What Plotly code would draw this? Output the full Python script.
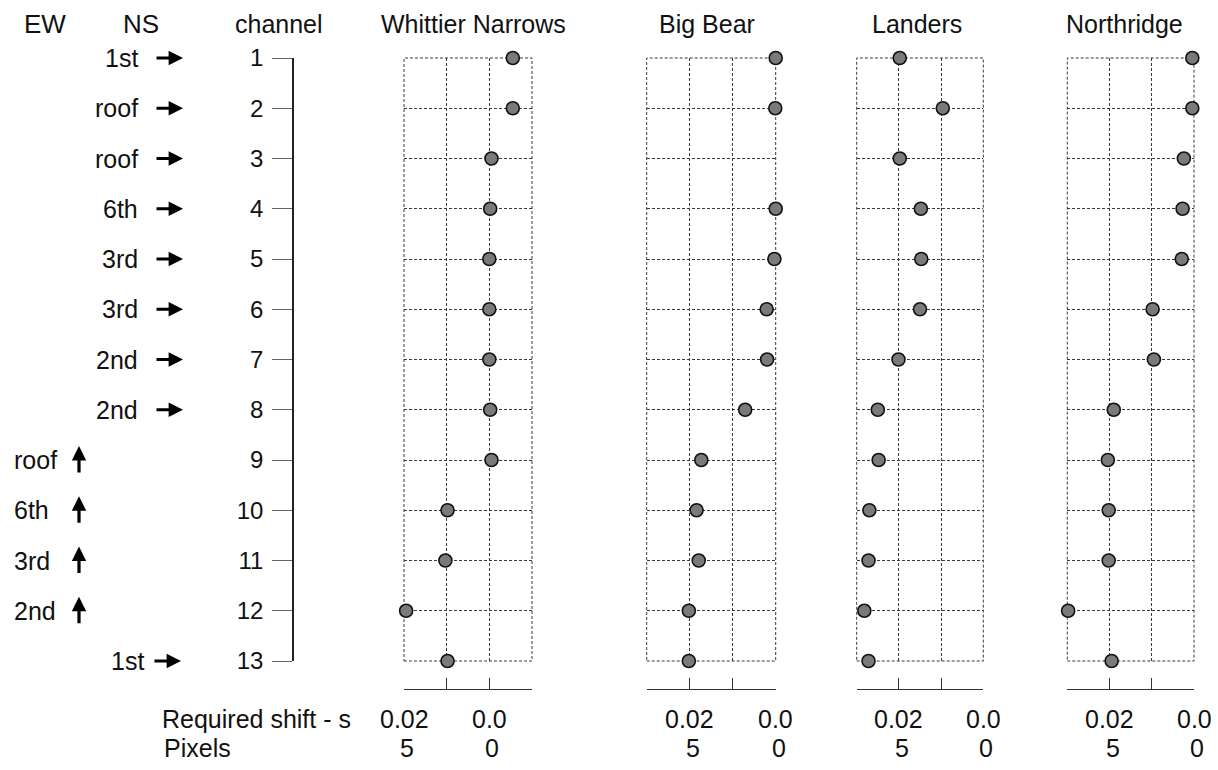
import plotly.graph_objects as go

W, H = 1218, 770

# ---------------- data ----------------
channels = list(range(1, 14))
channel_labels = [str(c) for c in channels]
floors = ["1st", "roof", "roof", "6th", "3rd", "3rd", "2nd", "2nd",
          "roof", "6th", "3rd", "2nd", "1st"]
directions = ["NS"] * 8 + ["EW"] * 4 + ["NS"]

stations = ["Whittier Narrows", "Big Bear", "Landers", "Northridge"]
whittier = [-0.0055, -0.0055, -0.0005, -0.0002, 0.0, 0.0, 0.0, -0.0002,
            -0.0005, 0.0098, 0.0103, 0.0195, 0.0098]
big_bear = [0.0, 0.0001, -0.0001, 0.0, 0.0003, 0.0021, 0.0020, 0.0071,
            0.0173, 0.0184, 0.0179, 0.0202, 0.0202]
landers = [0.0198, 0.0096, 0.0198, 0.0148, 0.0147, 0.0150, 0.0201, 0.0250,
           0.0248, 0.0270, 0.0272, 0.0282, 0.0272]
northridge = [0.0004, 0.0004, 0.0024, 0.0027, 0.0029, 0.0098, 0.0095, 0.0190,
              0.0204, 0.0202, 0.0202, 0.0298, 0.0195]
series = [whittier, big_bear, landers, northridge]

x_ranges = [[0.02, -0.01], [0.03, 0.0], [0.03, 0.0], [0.03, 0.0]]
x_tickvals = [[0.02, 0.01, 0.0, -0.01], [0.03, 0.02, 0.01, 0.0],
              [0.03, 0.02, 0.01, 0.0], [0.03, 0.02, 0.01, 0.0]]
shift_tick_vals = [0.02, 0.0]
shift_tick_text = ["0.02", "0.0"]
pixel_tick_text = ["5", "0"]

# ---------------- layout helpers ----------------
FONT = "Liberation Sans, Arial, sans-serif"
FS = 25
GRID = "#3a3a3a"
DASH = "3px,2px"

def px(x):
    return x / W

def py(y):
    return 1 - y / H

panel_px = [(404, 532), (646.7, 775.7), (856.7, 983.3), (1067.3, 1194)]
axis_ids = ["x", "x2", "x3", "x4"]
header_x = [473, 707, 917, 1124]

fig = go.Figure()

for i, vals in enumerate(series):
    fig.add_trace(go.Scatter(
        x=vals, y=channels, mode="markers",
        xaxis=axis_ids[i], yaxis="y",
        marker=dict(size=13, color="#7a7a7a",
                    line=dict(color="#111111", width=1.6)),
        cliponaxis=False, showlegend=False, name=stations[i],
    ))

layout = dict(
    width=W, height=H, autosize=False,
    margin=dict(l=0, r=0, t=0, b=0, pad=0, autoexpand=False),
    paper_bgcolor="white", plot_bgcolor="white",
    font=dict(family=FONT, size=FS, color="#111111"),
    showlegend=False,
    yaxis=dict(
        domain=[py(661), py(58)], range=[13, 1],
        anchor="free", position=px(293), side="left",
        showline=True, linecolor="#222222", linewidth=1.5,
        ticks="outside", ticklen=20, tickcolor="#666666", tickwidth=1.2,
        tickvals=channels, ticktext=channel_labels,
        tickfont=dict(family=FONT, size=24, color="#111111"),
        ticklabelstandoff=4, automargin=False,
        showgrid=True, gridcolor=GRID, griddash=DASH, gridwidth=1,
        zeroline=False, fixedrange=True,
    ),
)

for i, aid in enumerate(axis_ids):
    key = "xaxis" if i == 0 else f"xaxis{i + 1}"
    layout[key] = dict(
        domain=[px(panel_px[i][0]), px(panel_px[i][1])],
        range=x_ranges[i],
        anchor="free", position=py(689),
        showline=True, linecolor="#333333", linewidth=1.2,
        ticks="inside", ticklen=11, tickcolor="#333333", tickwidth=1.2,
        tickvals=x_tickvals[i], showticklabels=False, automargin=False,
        showgrid=True, gridcolor=GRID, griddash=DASH, gridwidth=1,
        zeroline=False, fixedrange=True,
    )

fig.update_layout(**layout)

# dashed frame round each panel
for aid in axis_ids:
    fig.add_shape(type="rect", xref=f"{aid} domain", yref="y domain",
                  x0=0, x1=1, y0=0, y1=1,
                  line=dict(color=GRID, width=1, dash=DASH), layer="below")

ann = []
# headers
for name, hx in zip(["EW", "NS", "channel"], [45, 141, 279]):
    ann.append(dict(text=name, x=px(hx), y=py(24), xref="paper", yref="paper",
                    showarrow=False, xanchor="center", yanchor="middle",
                    font=dict(size=26 if name != "channel" else FS)))
for name, hx in zip(stations, header_x):
    ann.append(dict(text=name, x=px(hx), y=py(24), xref="paper", yref="paper",
                    showarrow=False, xanchor="center", yanchor="middle"))

# floor labels and direction arrows
for ch, fl, d in zip(channels, floors, directions):
    if d == "NS":
        right = 146 if ch == 13 else 140
        tip = 181 if ch == 13 else 183
        ann.append(dict(text=fl, x=px(right), y=ch, xref="paper", yref="y",
                        showarrow=False, xanchor="right", yanchor="middle"))
        ann.append(dict(text="", x=px(tip), y=ch, xref="paper", yref="y",
                        showarrow=True, ax=-28, ay=0, arrowhead=2,
                        arrowsize=0.9, arrowwidth=3.2, arrowcolor="black"))
    else:
        ann.append(dict(text=fl, x=px(12), y=ch, xref="paper", yref="y",
                        showarrow=False, xanchor="left", yanchor="middle"))
        ann.append(dict(text="", x=px(79), y=ch, xref="paper", yref="y",
                        yshift=14, showarrow=True, ax=0, ay=28, arrowhead=2,
                        arrowsize=0.9, arrowwidth=3.2, arrowcolor="black"))

# bottom scale labels
ann.append(dict(text="Required shift - s", x=px(160), y=py(719), xref="paper",
                yref="paper", showarrow=False, xanchor="left", yanchor="middle"))
ann.append(dict(text="Pixels", x=px(162), y=py(748), xref="paper",
                yref="paper", showarrow=False, xanchor="left", yanchor="middle"))
for aid in axis_ids:
    for v, t1, t2 in zip(shift_tick_vals, shift_tick_text, pixel_tick_text):
        ann.append(dict(text=t1, x=v, y=py(719), xref=aid, yref="paper",
                        showarrow=False, xanchor="center", yanchor="middle"))
        ann.append(dict(text=t2, x=v, y=py(748), xref=aid, yref="paper",
                        xshift=3, showarrow=False, xanchor="center",
                        yanchor="middle"))

fig.update_layout(annotations=ann)
fig.write_html(
    "out.html",
    config={"displayModeBar": False, "staticPlot": False},
    post_script="document.body.style.margin='0px';"
                "document.body.style.overflow='hidden';",
)
